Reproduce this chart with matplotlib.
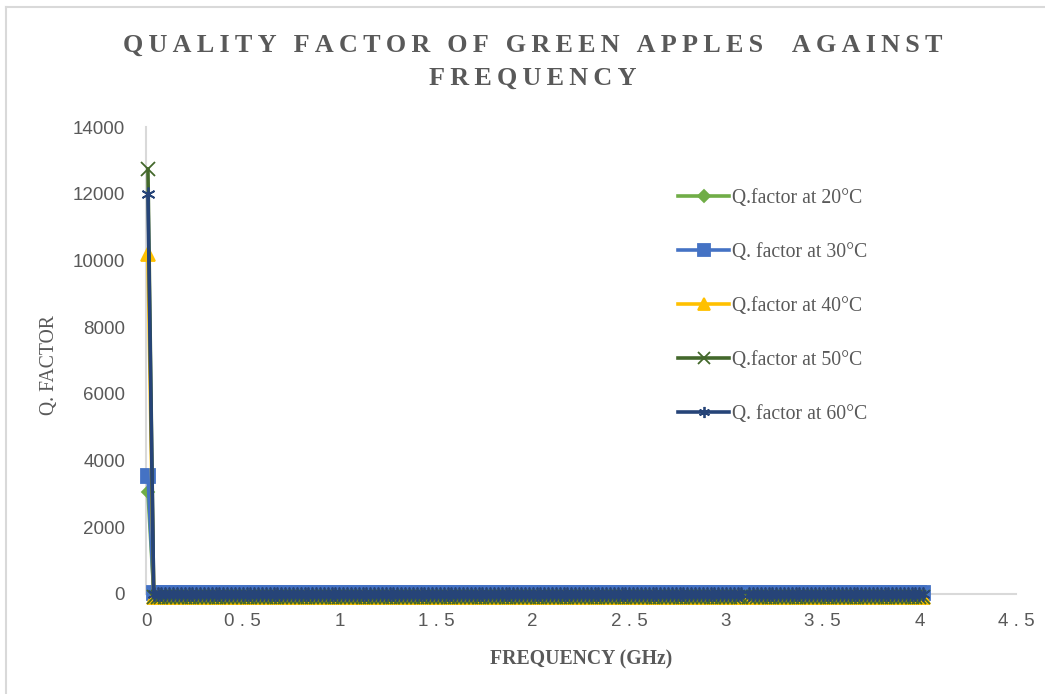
import numpy as np
import matplotlib.pyplot as plt
from matplotlib.lines import Line2D

# frequency sweep (GHz): first reading, then 0.04 .. 4.02 in 0.02 steps
freq = [0.01] + [round(0.04 + 0.02 * i, 2) for i in range(200)]

# first reading is the large one, the rest sit close to zero
q20 = [3050] + [40] * 200
q30 = [3530] + [40] * 200
q40 = [10200] + [-90] * 200
q50 = [12740] + [-90] * 200
q60 = [11990] + [0] * 200

# one missing reading near 3.1 GHz
gap = freq.index(3.1)
for s in (q20, q30, q40, q50, q60):
    s[gap] = np.nan

labels = ['Q.factor at 20\u00b0C', 'Q. factor at 30\u00b0C', 'Q.factor at 40\u00b0C',
          'Q.factor at 50\u00b0C', 'Q. factor at 60\u00b0C']
colors = ['#70AD47', '#4472C4', '#FFC000', '#43682B', '#264478']
markers = ['D', 's', '^', 'x', (6, 2, 0)]
msizes = [6, 9.5, 10, 10, 10]

W, H = 1045, 694
fig = plt.figure(figsize=(W / 100, H / 100), dpi=100)
ax = fig.add_axes([146 / W, 1 - 594 / H, (1016 - 146) / W, (594 - 127) / H])

series = [q20, q30, q40, q50, q60]
for y, lab, c, m, ms in zip(series, labels, colors, markers, msizes):
    ax.plot(freq, y, color=c, lw=2.6, marker=m, ms=ms, mew=1.3,
            mfc=c, mec=c, label=lab, clip_on=False)

ax.set_xlim(0, 4.5)
ax.set_ylim(0, 14000)
ax.set_xticks(np.arange(0, 4.51, 0.5))
ax.set_xticklabels([' '.join('%g' % v) for v in np.arange(0, 4.51, 0.5)])
ax.set_yticks(np.arange(0, 14001, 2000))
ax.tick_params(length=0, labelsize=13.5, labelcolor='#595959')
ax.tick_params(axis='y', pad=15)
ax.tick_params(axis='x', pad=14)
for t in ax.get_xticklabels() + ax.get_yticklabels():
    t.set_family('Liberation Sans')

for s in ['top', 'right']:
    ax.spines[s].set_visible(False)
ax.spines['left'].set_color('#D9D9D9')
ax.spines['bottom'].set_color('#D9D9D9')
ax.spines['left'].set_linewidth(1.5)
ax.spines['bottom'].set_linewidth(1.5)
ax.spines['left'].set_zorder(0)
ax.spines['bottom'].set_zorder(0)

serif = ['Liberation Serif', 'DejaVu Serif']
ax.set_xlabel('FREQUENCY (GHz)', family=serif, fontsize=14.2, fontweight='bold',
              color='#595959', va='center')
ax.xaxis.set_label_coords(0.5005, (594 - 659) / 467)
ax.set_ylabel('Q. FACTOR', family=serif, fontsize=14.2, color='#595959', va='center')
ax.yaxis.set_label_coords((50 - 146) / 870, 0.49)

title1 = '\u2009'.join('QUALITY FACTOR OF GREEN APPLES  AGAINST')
title2 = '\u2009'.join('FREQUENCY')
fig.text(533 / W, 1 - 45 / H, title1, family=serif, fontsize=18.8, fontweight='bold',
         color='#595959', ha='center', va='center')
fig.text(533 / W, 1 - 78 / H, title2, family=serif, fontsize=18.8, fontweight='bold',
         color='#595959', ha='center', va='center')

leg = ax.legend(loc='upper left', bbox_to_anchor=(678 / W, 1 - 189 / H),
                bbox_transform=fig.transFigure, frameon=False, borderpad=0,
                borderaxespad=0, handlelength=2.6, handletextpad=0.12,
                labelspacing=1.77, prop={'family': serif, 'size': 14.2})
for t in leg.get_texts():
    t.set_color('#595959')
for h, ms in zip(leg.legend_handles, [6, 9, 9, 8, 8]):
    h.set_markersize(ms)

# chart border
fig.add_artist(Line2D([6 / W, 6 / W], [0, 1 - 7 / H], color='#D9D9D9', lw=1.5))
fig.add_artist(Line2D([6 / W, 1], [1 - 7 / H, 1 - 7 / H], color='#D9D9D9', lw=1.5))

fig.savefig('out.png', dpi=100)
